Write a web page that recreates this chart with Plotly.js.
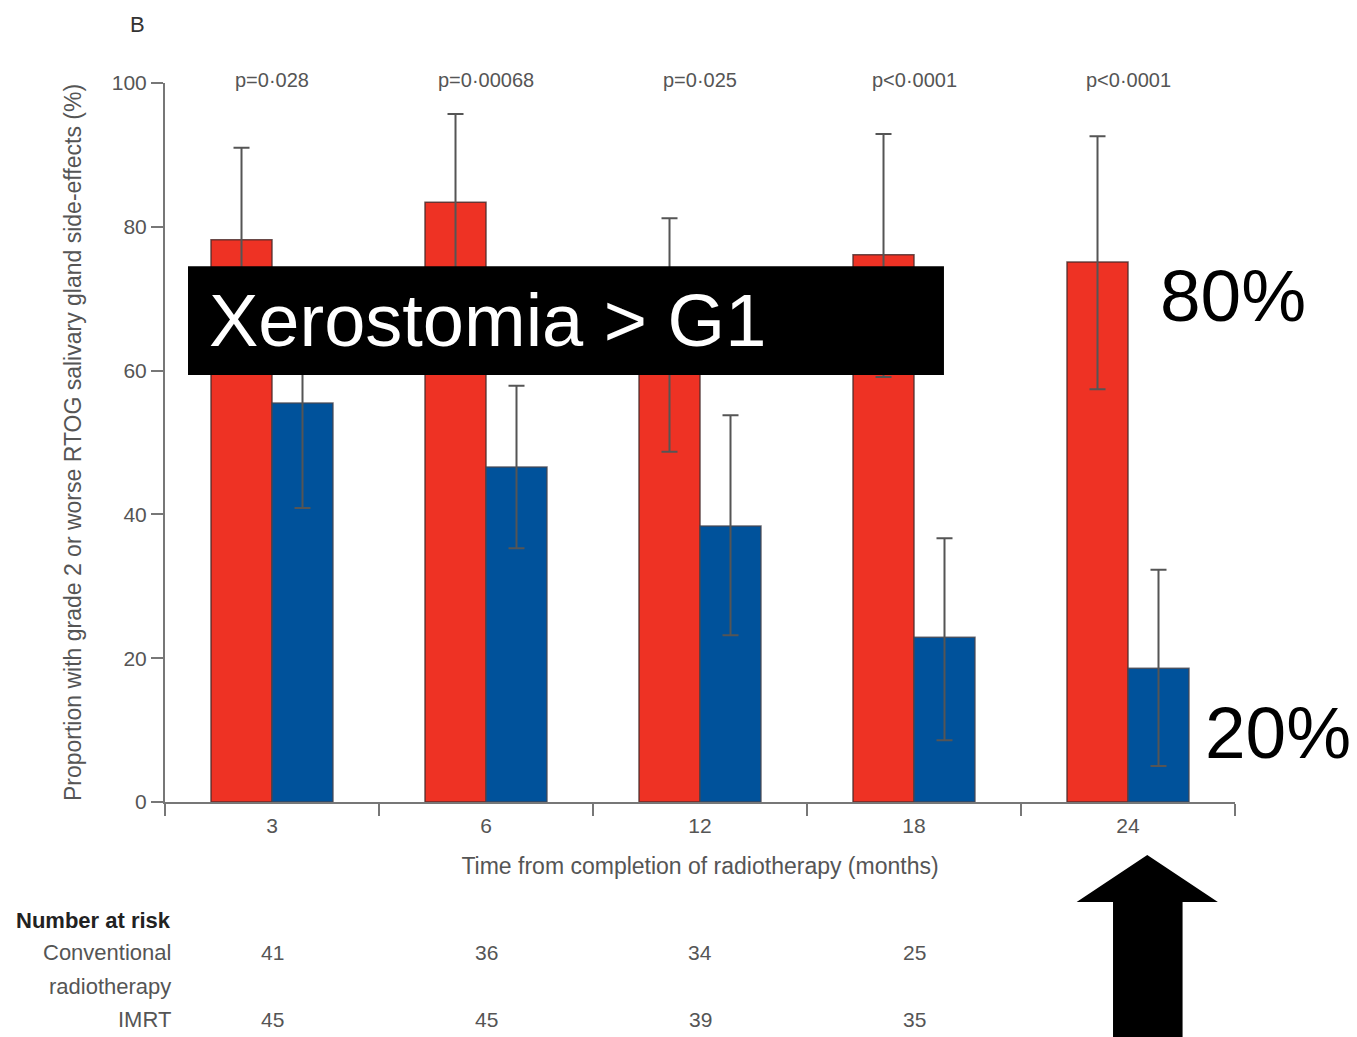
<!DOCTYPE html>
<html>
<head>
<meta charset="utf-8">
<script src="https://cdn.plot.ly/plotly-3.0.1.min.js"></script>
<style>html,body{margin:0;padding:0;background:#fff;}#chart{width:1357px;height:1037px;}</style>
</head>
<body>
<div id="chart"></div>
<script>
// ---- data ----
const months = ['3', '6', '12', '18', '24'];
const convMean = [78.2, 83.4, 65.0, 76.1, 75.1];
const convErrPlus = [12.8, 12.3, 16.2, 16.8, 17.5];
const convErrMinus = [12.7, 12.4, 16.3, 17.0, 17.7];
const imrtMean = [55.5, 46.6, 38.4, 22.9, 18.6];
const imrtErrPlus = [14.6, 11.3, 15.4, 13.8, 13.7];
const imrtErrMinus = [14.6, 11.3, 15.2, 14.3, 13.6];
const pValues = ['p=0·028', 'p=0·00068', 'p=0·025', 'p<0·0001', 'p<0·0001'];
const riskConv = [41, 36, 34, 25];
const riskImrt = [45, 45, 39, 35];
const yTicks = [0, 20, 40, 60, 80, 100];

const FONT = '"Liberation Sans", Arial, sans-serif';
const BIG = '"Liberation Sans", Arial, sans-serif';
const GREY = '#555';

const errStyle = {type: 'data', symmetric: false, color: '#555', thickness: 2, width: 8};

const traces = [
  {
    type: 'bar', name: 'Conventional radiotherapy', x: months, y: convMean,
    marker: {color: '#EE3224', line: {color: 'rgba(70,40,40,0.8)', width: 1.5}},
    error_y: Object.assign({array: convErrPlus, arrayminus: convErrMinus}, errStyle),
    showlegend: false
  },
  {
    type: 'bar', name: 'IMRT', x: months, y: imrtMean,
    marker: {color: '#00529B', line: {color: 'rgba(70,70,80,0.8)', width: 1.5}},
    error_y: Object.assign({array: imrtErrPlus, arrayminus: imrtErrMinus}, errStyle),
    showlegend: false
  }
];

const annotations = [];
// p-values (x = category index)
pValues.forEach((p, i) => {
  annotations.push({x: i, y: 1.004, xref: 'x', yref: 'paper', text: p, showarrow: false,
    font: {family: FONT, size: 20, color: GREY}, xanchor: 'center', yanchor: 'middle'});
});
// panel label
annotations.push({x: -0.026, y: 1.081, xref: 'paper', yref: 'paper', text: 'B', showarrow: false,
  xanchor: 'center', yanchor: 'middle', font: {family: FONT, size: 22, color: '#333'}});
// number at risk
const rowLabels = [
  ['<b>Number at risk</b>', -0.1655, '#222'],
  ['Conventional', -0.210, GREY],
  ['radiotherapy', -0.256, GREY],
  ['IMRT', -0.302, GREY]
];
rowLabels.forEach(r => {
  annotations.push({x: 0.0075, y: r[1], xref: 'paper', yref: 'paper', xanchor: 'right', yanchor: 'middle',
    text: r[0], showarrow: false, font: {family: FONT, size: 22, color: r[2]}});
});
riskConv.forEach((v, i) => {
  annotations.push({x: i, y: -0.210, xref: 'x', yref: 'paper', text: String(v), showarrow: false,
    xanchor: 'center', yanchor: 'middle', font: {family: FONT, size: 21, color: GREY}});
});
riskImrt.forEach((v, i) => {
  annotations.push({x: i, y: -0.302, xref: 'x', yref: 'paper', text: String(v), showarrow: false,
    xanchor: 'center', yanchor: 'middle', font: {family: FONT, size: 21, color: GREY}});
});
// overlay texts
annotations.push({x: 0.039, y: 0.670, xref: 'paper', yref: 'paper', xanchor: 'left', yanchor: 'middle',
  text: 'Xerostomia &gt; G1', showarrow: false, font: {family: BIG, size: 74, color: '#fff'}});
annotations.push({x: 0.998, y: 0.704, xref: 'paper', yref: 'paper', xanchor: 'center', yanchor: 'middle',
  text: '80%', showarrow: false, font: {family: BIG, size: 73, color: '#000'}});
annotations.push({x: 1.040, y: 0.097, xref: 'paper', yref: 'paper', xanchor: 'center', yanchor: 'middle',
  text: '20%', showarrow: false, font: {family: BIG, size: 73, color: '#000'}});

const shapes = [
  {type: 'rect', xref: 'paper', yref: 'paper', x0: 0.0215, x1: 0.728, y0: 0.594, y1: 0.745,
    fillcolor: '#000', line: {width: 0}, layer: 'above'},
  {type: 'path', xref: 'paper', yref: 'paper',
    path: 'M 0.852 -0.139 L 0.918 -0.0737 L 0.984 -0.139 L 0.951 -0.139 L 0.951 -0.35 L 0.886 -0.35 L 0.886 -0.139 Z',
    fillcolor: '#000', line: {width: 0}, layer: 'above'}
];

const layout = {
  width: 1357, height: 1037,
  margin: {l: 165, r: 122, t: 83, b: 235},
  paper_bgcolor: '#fff', plot_bgcolor: '#fff',
  barmode: 'group', bargap: 0.43, bargroupgap: 0,
  font: {family: FONT, color: GREY},
  xaxis: {
    type: 'category', range: [-0.5, 4.5], tickson: 'boundaries',
    ticks: 'outside', ticklen: 12, tickwidth: 2, tickcolor: '#777',
    showline: true, linecolor: '#777', linewidth: 2, showgrid: false, zeroline: false,
    tickfont: {family: FONT, size: 21, color: GREY}, ticklabelstandoff: 4,
    title: {text: 'Time from completion of radiotherapy (months)', font: {family: FONT, size: 23, color: GREY}, standoff: 22}
  },
  yaxis: {
    range: [0, 100], tickvals: yTicks, ticktext: yTicks.map(String),
    ticks: 'outside', ticklen: 12, tickwidth: 2, tickcolor: '#777',
    showline: true, linecolor: '#777', linewidth: 2, showgrid: false, zeroline: false,
    tickfont: {family: FONT, size: 21, color: GREY},
    title: {text: 'Proportion with grade 2 or worse RTOG salivary gland side-effects (%)', font: {family: FONT, size: 23, color: GREY}, standoff: 24}
  },
  annotations: annotations,
  shapes: shapes
};

Plotly.newPlot('chart', traces, layout, {displayModeBar: false, staticPlot: true});
</script>
</body>
</html>
